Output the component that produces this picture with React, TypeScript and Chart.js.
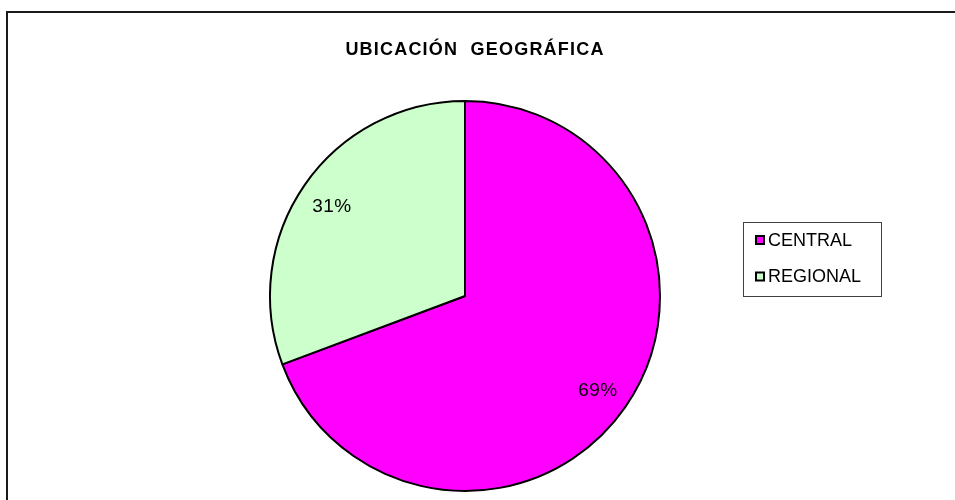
import React, { useEffect, useRef } from "react";
import { Chart, registerables } from "chart.js";

Chart.register(...registerables);

const TITLE = "UBICACIÓN  GEOGRÁFICA";
const categories = ["CENTRAL", "REGIONAL"];
const values = [69.3, 30.7];
const percentLabels = ["69%", "31%"];
const colors = ["#FF00FF", "#CCFFCC"];

const FONT = "'Liberation Sans', Arial, sans-serif";

const decorPlugin = {
  id: "decor",
  beforeDraw(chart: any) {
    const ctx = chart.ctx;
    ctx.save();
    ctx.fillStyle = "#ffffff";
    ctx.fillRect(0, 0, chart.width, chart.height);
    ctx.restore();
  },
  afterDraw(chart: any) {
    const ctx = chart.ctx;
    ctx.save();
    // outer frame
    ctx.strokeStyle = "#1a1a1a";
    ctx.lineWidth = 2;
    ctx.strokeRect(7, 12, chart.width + 20, chart.height + 20);

    // title
    ctx.fillStyle = "#000000";
    ctx.font = `bold 18px ${FONT}`;
    (ctx as any).letterSpacing = "1.2px";
    ctx.textAlign = "center";
    ctx.textBaseline = "middle";
    ctx.fillText(TITLE, 475, 50);
    (ctx as any).letterSpacing = "0px";

    // percent labels
    const meta = chart.getDatasetMeta(0);
    ctx.font = `19px ${FONT}`;
    (ctx as any).letterSpacing = "0.5px";
    meta.data.forEach((arc: any, i: number) => {
      const mid = (arc.startAngle + arc.endAngle) / 2;
      const r = arc.outerRadius * 0.83;
      const x = arc.x + Math.cos(mid) * r;
      const y = arc.y + Math.sin(mid) * r;
      ctx.fillText(percentLabels[i], x, y + 3);
    });
    (ctx as any).letterSpacing = "0px";

    // legend
    ctx.strokeStyle = "#404040";
    ctx.lineWidth = 1;
    ctx.strokeRect(743.5, 222.5, 138, 74);
    ctx.font = `18px ${FONT}`;
    ctx.textAlign = "left";
    const ys = [240, 276.5];
    categories.forEach((c, i) => {
      const y = ys[i];
      ctx.fillStyle = colors[i];
      ctx.fillRect(756, y - 4, 8, 8);
      ctx.strokeStyle = "#000000";
      ctx.lineWidth = 2;
      ctx.strokeRect(756, y - 4, 8, 8);
      ctx.fillStyle = "#000000";
      ctx.fillText(c, 768, y + 1);
    });
    ctx.restore();
  },
};

export default function App() {
  const ref = useRef<HTMLCanvasElement | null>(null);
  useEffect(() => {
    if (!ref.current) return;
    const chart = new Chart(ref.current, {
      type: "pie",
      data: {
        labels: categories,
        datasets: [
          {
            data: values,
            backgroundColor: colors,
            borderColor: "#000000",
            borderWidth: 2,
            borderAlign: "center",
          },
        ],
      },
      options: {
        animation: false,
        responsive: false,
        maintainAspectRatio: false,
        layout: { padding: { left: 269, right: 294, top: 100, bottom: 8 } },
        plugins: {
          legend: { display: false },
          title: { display: false },
          tooltip: { enabled: false },
        },
      },
      plugins: [decorPlugin],
    });
    return () => chart.destroy();
  }, []);
  return (
    <div style={{ position: "fixed", left: 0, top: 0, width: 955, height: 500, background: "#fff" }}>
      <canvas ref={ref} width={955} height={500} style={{ width: 955, height: 500, display: "block" }} />
    </div>
  );
}
